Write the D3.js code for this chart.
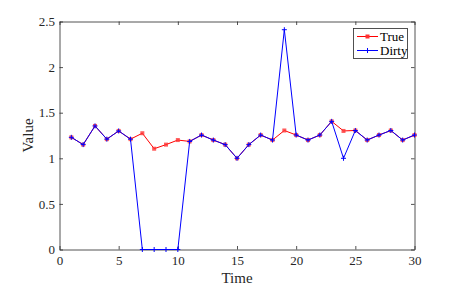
<!DOCTYPE html>
<html>
<head>
<meta charset="UTF-8" />
<script src="https://cdnjs.cloudflare.com/ajax/libs/d3/7.8.5/d3.min.js"></script>
<style>
  body { margin: 0; background: #fff; }
  svg { display: block; font-family: 'Liberation Serif', 'Times New Roman', serif; }
  svg text { font-family: 'Liberation Serif', 'Times New Roman', serif; }
</style>
</head>
<body>
<svg id="chart" width="457" height="286"></svg>
<script>
  // data
  const time = d3.range(1, 31);
  const trueVals = [1.23, 1.15, 1.355, 1.21, 1.3, 1.21, 1.275, 1.105, 1.15, 1.2,
                    1.185, 1.255, 1.2, 1.15, 1.0, 1.15, 1.255, 1.2, 1.305, 1.255,
                    1.2, 1.255, 1.405, 1.3, 1.305, 1.2, 1.255, 1.305, 1.2, 1.255];
  const dirtyVals = [1.23, 1.15, 1.355, 1.21, 1.3, 1.21, 0, 0, 0, 0,
                     1.185, 1.255, 1.2, 1.15, 1.0, 1.15, 1.255, 1.2, 2.41, 1.255,
                     1.2, 1.255, 1.405, 1.0, 1.305, 1.2, 1.255, 1.305, 1.2, 1.255];
  const xTicks = [0, 5, 10, 15, 20, 25, 30];
  const yTicks = [0, 0.5, 1, 1.5, 2, 2.5];
  const seriesNames = ["True", "Dirty"];

  const svg = d3.select("#chart");
  const L = 59.5, R = 414.5, T = 21.5, B = 249.5;
  const x = d3.scaleLinear().domain([0, 30]).range([L, R]);
  const y = d3.scaleLinear().domain([0, 2.5]).range([B, T]);
  const axisCol = "#262626";

  // axes box with inward ticks (matlab style)
  const gx = svg.append("g").attr("transform", `translate(0,${B})`)
    .call(d3.axisBottom(x).tickValues(xTicks).tickSizeInner(-3.5).tickSizeOuter(0).tickPadding(6.5).tickFormat(d3.format("")));
  const gxTop = svg.append("g").attr("transform", `translate(0,${T})`)
    .call(d3.axisTop(x).tickValues(xTicks).tickSizeInner(-3.5).tickSizeOuter(0).tickFormat(""));
  const gy = svg.append("g").attr("transform", `translate(${L},0)`)
    .call(d3.axisLeft(y).tickValues(yTicks).tickSizeInner(-3.5).tickSizeOuter(0).tickPadding(4.5).tickFormat(d3.format("")));
  const gyR = svg.append("g").attr("transform", `translate(${R},0)`)
    .call(d3.axisRight(y).tickValues(yTicks).tickSizeInner(-3.5).tickSizeOuter(0).tickFormat(""));

  [gx, gxTop, gy, gyR].forEach(g => {
    g.attr("font-family", "'Liberation Serif', serif").attr("font-size", 13);
    g.select(".domain").attr("stroke", axisCol).attr("stroke-width", 0.8);
    g.selectAll(".tick line").attr("stroke", axisCol).attr("stroke-width", 0.8);
    g.selectAll(".tick text").attr("fill", axisCol);
  });

  // axis labels
  svg.append("text").attr("x", (L + R) / 2).attr("y", 283).attr("text-anchor", "middle")
    .attr("font-size", 15).attr("fill", axisCol).text("Time");
  svg.append("text").attr("transform", `translate(33,${(T + B) / 2}) rotate(-90)`)
    .attr("text-anchor", "middle").attr("font-size", 15).attr("fill", axisCol).text("Value");

  const line = d3.line().x((d, i) => x(time[i])).y(d => y(d));

  // True series: red, square markers
  svg.append("path").datum(trueVals).attr("d", line)
    .attr("fill", "none").attr("stroke", "#ff0000").attr("stroke-width", 1);
  svg.append("g").selectAll("rect").data(trueVals).join("rect")
    .attr("x", (d, i) => x(time[i]) - 2).attr("y", d => y(d) - 2)
    .attr("width", 4).attr("height", 4).attr("fill", "#ff3333").attr("fill-opacity", 0.8);

  // Dirty series: blue, plus markers
  svg.append("path").datum(dirtyVals).attr("d", line)
    .attr("fill", "none").attr("stroke", "#0000ff").attr("stroke-width", 1);
  svg.append("g").selectAll("path").data(dirtyVals).join("path")
    .attr("transform", (d, i) => `translate(${x(time[i])},${y(d)})`)
    .attr("d", "M-2.5,0H2.5M0,-2.5V2.5")
    .attr("stroke", "#0000ff").attr("stroke-width", 1).attr("fill", "none");

  // legend
  const lg = svg.append("g");
  lg.append("rect").attr("x", 353.5).attr("y", 28.5).attr("width", 54).attr("height", 30)
    .attr("fill", "#fff").attr("stroke", axisCol).attr("stroke-width", 0.8);
  const colors = ["#ff0000", "#0000ff"];
  seriesNames.forEach((name, i) => {
    const ly = 36.5 + i * 14;
    lg.append("line").attr("x1", 357).attr("x2", 378).attr("y1", ly).attr("y2", ly)
      .attr("stroke", colors[i]).attr("stroke-width", 1);
    if (i === 0) {
      lg.append("rect").attr("x", 365.5).attr("y", ly - 2).attr("width", 4).attr("height", 4)
        .attr("fill", "#ff3333");
    } else {
      lg.append("path").attr("transform", `translate(367.5,${ly})`).attr("d", "M-2.5,0H2.5M0,-2.5V2.5")
        .attr("stroke", colors[i]).attr("fill", "none");
    }
    lg.append("text").attr("x", 380).attr("y", ly + 4.5).attr("font-size", 13)
      .attr("fill", "#000").text(name);
  });
</script>
</body>
</html>
